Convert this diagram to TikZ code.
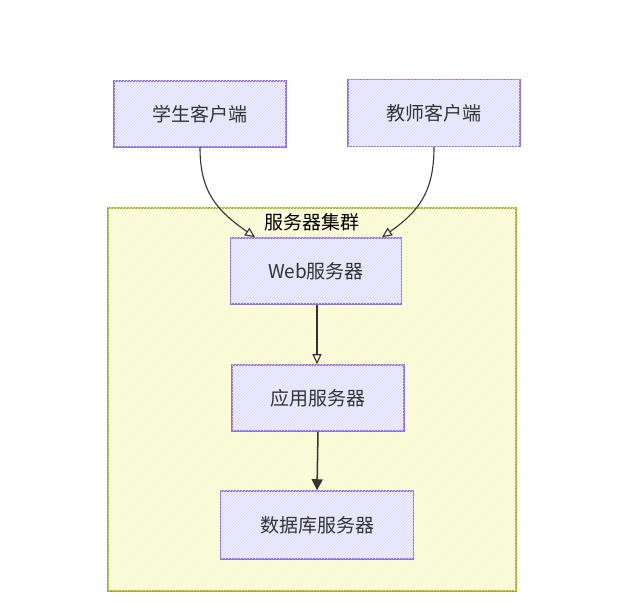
\documentclass[tikz,border=0pt]{standalone}
\usepackage{fontspec}
\setmainfont{Noto Sans CJK SC}
\usetikzlibrary{arrows.meta,patterns}
\definecolor{boxfill}{HTML}{ECECFF}
\definecolor{boxline}{HTML}{9370DB}
\definecolor{boxhatch}{HTML}{DCDCFA}
\definecolor{grpfill}{HTML}{FFFFE4}
\definecolor{grpline}{HTML}{AAAA33}
\definecolor{grphatch}{HTML}{F4F4C0}
\definecolor{txt}{HTML}{333333}
\begin{document}
\begin{tikzpicture}[x=1pt,y=1pt,
  every node/.style={font=\fontsize{19}{23}\selectfont,text=txt},
  srvbox/.style={draw=boxline,line width=1.5pt,fill=boxfill,
    postaction={pattern=north east lines,pattern color=boxhatch},
    minimum width=172pt,minimum height=66pt,inner sep=0pt},
  flow/.style={draw=black!80,line width=1.1pt,-{Triangle[open,length=10pt,width=9pt]}}]
\useasboundingbox (0,0) rectangle (618,607);
% cluster
\draw[draw=grpline,line width=1.3pt,fill=grpfill,
  postaction={pattern=north east lines,pattern color=grphatch}] (108,16) rectangle (516,399);
\node[text=black] (grp) at (312,385) {服务器集群};
% clients
\node[srvbox] (stu) at (200,493) {学生客户端};
\node[srvbox,minimum height=67pt] (tea) at (434,494) {教师客户端};
% servers
\node[srvbox,minimum width=171pt] (web) at (316,336) {Web服务器};
\node[srvbox] (app) at (318,209) {应用服务器};
\node[srvbox,minimum width=193pt,minimum height=68pt] (db) at (317,82) {数据库服务器};
% links
\draw[flow] (stu.south) to[out=-90,in=145,looseness=1.1] ([xshift=-61pt]web.north);
\draw[flow] (tea.south) to[out=-90,in=35,looseness=1.1] ([xshift=66pt]web.north);
\draw[flow] ([xshift=1pt]web.south) -- ([xshift=-1pt]app.north);
\draw[draw=black!80,line width=1.5pt,-{Triangle[length=11pt,width=11pt]}] (app.south) -- (db.north);
\end{tikzpicture}
\end{document}
